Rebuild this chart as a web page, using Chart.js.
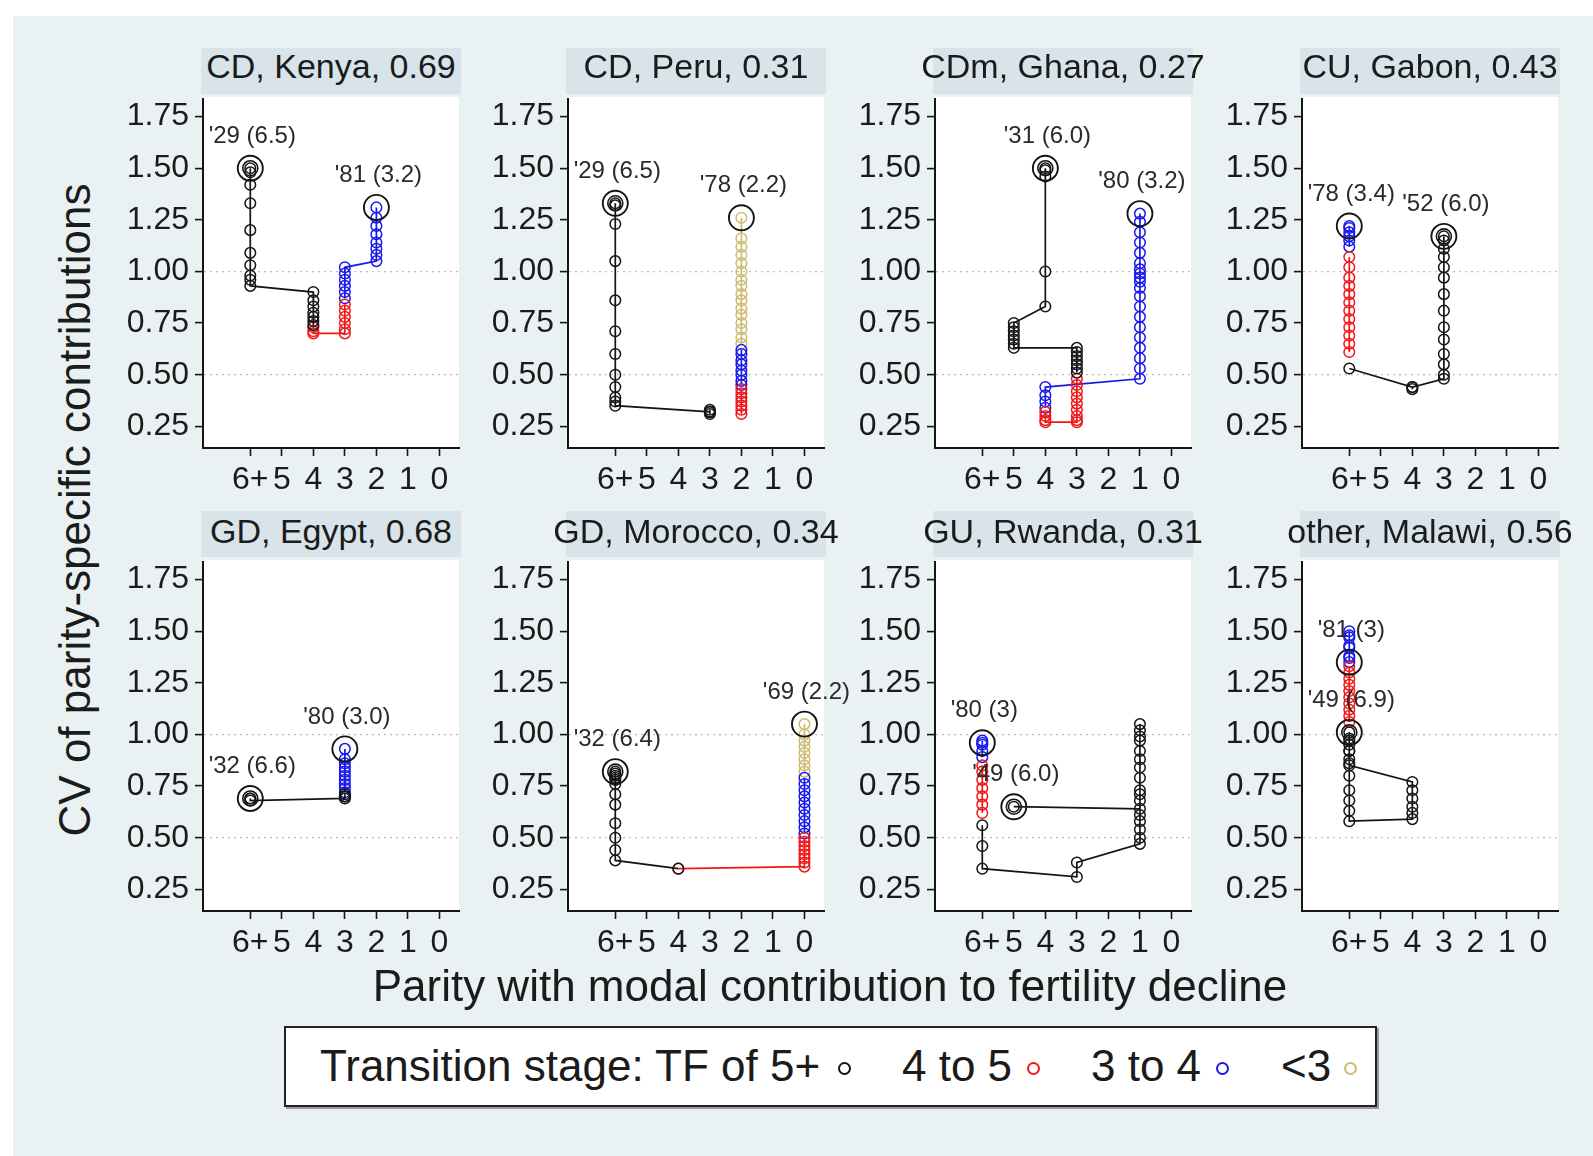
<!DOCTYPE html>
<html>
<head>
<meta charset="utf-8">
<script src="https://cdn.jsdelivr.net/npm/chart.js@4.4.1/dist/chart.umd.min.js"></script>
<style>
  body { margin: 0; width: 1593px; height: 1156px; overflow: hidden; background: #fff; position: relative;
         font-family: "Liberation Sans", Arial, sans-serif; color: #1b1b1b; }
  #region { position: absolute; left: 13px; top: 16px; width: 1580px; height: 1140px; background: #eaf1f3; }
  .strip { position: absolute; height: 46px; background: #d9e4ea; }
  .ptitle { position: absolute; width: 400px; text-align: center; font-size: 34px; line-height: 34px; white-space: nowrap; }
  canvas { position: absolute; }
  #xtitle { position: absolute; left: 330px; top: 964px; width: 1000px; text-align: center; font-size: 44px; line-height: 44px; }
  #ytitle { position: absolute; left: -275px; top: 488px; width: 700px; height: 44px; text-align: center;
            font-size: 44px; line-height: 44px; transform: rotate(-90deg); white-space: nowrap; }
  #legend { position: absolute; left: 284px; top: 1026px; width: 1089px; height: 77px; background: #fff;
            border: 2px solid #222; box-shadow: 2px 2px 0 #9a9a9a; }
  #legend span { position: absolute; top: 16px; font-size: 44px; line-height: 44px; white-space: nowrap; }
  #legend i { position: absolute; top: 34px; width: 9px; height: 9px; border: 2px solid; border-radius: 50%; }
</style>
</head>
<body>
<div id="region"></div>
<div id="panels"></div>
<div id="xtitle">Parity with modal contribution to fertility decline</div>
<div id="ytitle">CV of parity-specific contributions</div>
<div id="legend"></div>
<script>
// --- data ---
const panelTitles = ['CD, Kenya, 0.69', 'CD, Peru, 0.31', 'CDm, Ghana, 0.27', 'CU, Gabon, 0.43',
                     'GD, Egypt, 0.68', 'GD, Morocco, 0.34', 'GU, Rwanda, 0.31', 'other, Malawi, 0.56'];
const startLabels = ["'29 (6.5)", "'29 (6.5)", "'31 (6.0)", "'52 (6.0)", "'32 (6.6)", "'32 (6.4)", "'49 (6.0)", "'49 (6.9)"];
const endLabels   = ["'81 (3.2)", "'78 (2.2)", "'80 (3.2)", "'78 (3.4)", "'80 (3.0)", "'69 (2.2)", "'80 (3)", "'81 (3)"];

const stageNames = ['Transition stage: TF of 5+', '4 to 5', '3 to 4', '<3'];
const yTickValues = [0.25, 0.5, 0.75, 1, 1.25, 1.5, 1.75];
const xTickValues = [6, 5, 4, 3, 2, 1, 0];
const xTickLabels = ['6+', '5', '4', '3', '2', '1', '0'];

// parity with modal contribution, CV, stage (0 = TF 5+, 1 = 4-5, 2 = 3-4, 3 = <3), year by year
const kenyaParity = [6,6,6,6,6,6,6,6,6,6, 4,4,4,4,4,4,4, 4,4,4, 3,3,3,3,3,3, 3,3,3,3,3,3, 2,2,2,2,2,2,2,2];
const kenyaCV     = [1.50,1.48,1.42,1.33,1.20,1.09,1.03,0.98,0.96,0.93, 0.90,0.86,0.83,0.80,0.78,0.76,0.74,
                     0.73,0.71,0.70, 0.70,0.72,0.75,0.78,0.81,0.84, 0.87,0.90,0.93,0.96,0.99,1.02,
                     1.05,1.08,1.11,1.14,1.18,1.22,1.26,1.31];
const kenyaStage  = [0,0,0,0,0,0,0,0,0,0, 0,0,0,0,0,0,0, 1,1,1, 1,1,1,1,1,1, 2,2,2,2,2,2, 2,2,2,2,2,2,2,2];

const peruParity = [6,6,6,6,6,6,6,6,6,6,6,6, 3,3,3,3,3, 2,2,2,2,2,2,2, 2,2,2,2,2,2,2,2,
                    2,2,2,2,2,2,2,2,2,2,2,2,2,2,2,2];
const peruCV     = [1.33,1.32,1.23,1.05,0.86,0.71,0.60,0.50,0.44,0.39,0.37,0.35, 0.32,0.32,0.31,0.33,0.32,
                    0.31,0.33,0.35,0.37,0.39,0.41,0.43, 0.45,0.47,0.50,0.52,0.55,0.57,0.60,0.62,
                    0.65,0.68,0.72,0.75,0.79,0.82,0.86,0.89,0.93,0.96,1.00,1.04,1.08,1.12,1.16,1.26];
const peruStage  = [0,0,0,0,0,0,0,0,0,0,0,0, 0,0,0,0,0, 1,1,1,1,1,1,1, 2,2,2,2,2,2,2,2,
                    3,3,3,3,3,3,3,3,3,3,3,3,3,3,3,3];

const ghanaParity = [4,4,4,4,4, 5,5,5,5,5,5,5, 3,3,3,3,3,3,3, 3,3,3,3,3,3,3,3,3, 4,4,4,4, 4,4,4,4,
                     1,1,1,1,1,1,1,1,1,1,1,1,1,1,1,1,1,1,1,1];
const ghanaCV     = [1.50,1.49,1.46,1.00,0.83, 0.75,0.73,0.71,0.69,0.67,0.65,0.63, 0.63,0.61,0.59,0.57,0.55,0.53,0.51,
                     0.48,0.45,0.42,0.39,0.36,0.33,0.30,0.28,0.27, 0.27,0.28,0.30,0.32, 0.34,0.37,0.40,0.44,
                     0.48,0.53,0.58,0.63,0.68,0.73,0.78,0.83,0.88,0.92,0.95,0.97,0.99,1.01,1.04,1.09,1.14,1.19,1.24,1.28];
const ghanaStage  = [0,0,0,0,0, 0,0,0,0,0,0,0, 0,0,0,0,0,0,0, 1,1,1,1,1,1,1,1,1, 1,1,1,1, 2,2,2,2,
                     2,2,2,2,2,2,2,2,2,2,2,2,2,2,2,2,2,2,2,2];

const gabonParity = [3,3,3,3,3,3,3,3,3,3,3,3,3,3, 4,4,4, 6, 6,6,6,6,6,6,6,6,6,6,6,6, 6,6,6,6,6,6];
const gabonCV     = [1.17,1.15,1.11,1.07,1.02,0.97,0.89,0.81,0.73,0.67,0.60,0.55,0.50,0.48, 0.44,0.43,0.44, 0.53,
                     0.61,0.65,0.69,0.73,0.77,0.81,0.85,0.89,0.93,0.97,1.02,1.07, 1.12,1.15,1.17,1.19,1.21,1.22];
const gabonStage  = [0,0,0,0,0,0,0,0,0,0,0,0,0,0, 0,0,0, 0, 1,1,1,1,1,1,1,1,1,1,1,1, 2,2,2,2,2,2];

const egyptParity = [6,6,6, 3,3,3,3, 3,3,3,3,3,3,3,3,3,3];
const egyptCV     = [0.69,0.69,0.68, 0.69,0.70,0.70,0.71, 0.72,0.74,0.76,0.78,0.80,0.82,0.84,0.86,0.88,0.93];
const egyptStage  = [0,0,0, 0,0,0,0, 2,2,2,2,2,2,2,2,2,2];

const moroccoParity = [6,6,6,6,6,6,6,6,6,6,6,6, 4, 4, 0,0,0,0,0,0,0,0, 0,0,0,0,0,0,0,0,0,0, 0,0,0,0,0,0,0,0];
const moroccoCV     = [0.82,0.81,0.80,0.79,0.78,0.76,0.71,0.66,0.57,0.50,0.44,0.39, 0.35, 0.35,
                       0.36,0.38,0.40,0.42,0.44,0.46,0.48,0.50, 0.52,0.55,0.58,0.61,0.64,0.67,0.70,0.73,0.76,0.79,
                       0.82,0.85,0.88,0.91,0.94,0.97,1.00,1.05];
const moroccoStage  = [0,0,0,0,0,0,0,0,0,0,0,0, 0, 1, 1,1,1,1,1,1,1,1, 2,2,2,2,2,2,2,2,2,2, 3,3,3,3,3,3,3,3];

const rwandaParity = [5, 1,1,1,1,1,1,1,1,1,1,1,1,1,1,1,1,1, 3,3, 6,6,6, 6,6,6,6,6,6,6, 6,6,6,6,6];
const rwandaCV     = [0.65, 0.64,0.71,0.79,0.88,0.97,1.02,1.05,0.99,0.92,0.84,0.73,0.68,0.61,0.58,0.54,0.50,0.47,
                      0.38,0.31, 0.35,0.46,0.56, 0.62,0.66,0.70,0.74,0.78,0.82,0.85, 0.89,0.92,0.95,0.97,0.96];
const rwandaStage  = [0, 0,0,0,0,0,0,0,0,0,0,0,0,0,0,0,0,0, 0,0, 0,0,0, 1,1,1,1,1,1,1, 2,2,2,2,2];

const malawiParity = [6,6,6,6,6,6, 4,4,4,4,4,4, 6,6,6,6,6,6,6,6, 6,6,6,6,6,6,6,6,6,6, 6,6,6,6,6,6,6,6];
const malawiCV     = [1.01,0.98,0.95,0.92,0.88,0.85, 0.77,0.73,0.69,0.65,0.62,0.59, 0.58,0.63,0.68,0.73,0.80,0.86,0.92,0.97,
                      1.06,1.09,1.12,1.15,1.18,1.21,1.24,1.27,1.30,1.33, 1.37,1.42,1.47,1.50,1.48,1.43,1.38,1.35];
const malawiStage  = [0,0,0,0,0,0, 0,0,0,0,0,0, 0,0,0,0,0,0,0,0, 1,1,1,1,1,1,1,1,1,1, 2,2,2,2,2,2,2,2];

// --- styling / layout ---
const stageColors = ['#151515', '#f01818', '#1818ec', '#cfbb72'];
const colLeft = [203, 568, 935, 1302];
const rowTop = [99, 562];
const plotW = 256, plotH = 349, yAxisW = 100, xAxisH = 60, padRight = 40, padTop = 20;
const titleBaseline = [78, 543];
const stripTop = [48, 511];

Chart.defaults.font.family = '"Liberation Sans", Arial, sans-serif';
Chart.defaults.color = '#1b1b1b';

const series = [
  [kenyaParity, kenyaCV, kenyaStage], [peruParity, peruCV, peruStage],
  [ghanaParity, ghanaCV, ghanaStage], [gabonParity, gabonCV, gabonStage],
  [egyptParity, egyptCV, egyptStage], [moroccoParity, moroccoCV, moroccoStage],
  [rwandaParity, rwandaCV, rwandaStage], [malawiParity, malawiCV, malawiStage]
];

// white plot region
const plotBg = {
  id: 'plotBg',
  beforeDraw(chart) {
    const { ctx, chartArea: a } = chart;
    ctx.save();
    ctx.fillStyle = '#fff';
    ctx.fillRect(a.left, a.top - 2, a.right - a.left, a.bottom - a.top + 2);
    ctx.restore();
  }
};

// year (TF) labels above the first and last observation
const yearLabels = {
  id: 'yearLabels',
  afterDatasetsDraw(chart, args, opts) {
    const meta = chart.getDatasetMeta(0);
    const ctx = chart.ctx;
    ctx.save();
    ctx.font = '24px "Liberation Sans", Arial, sans-serif';
    ctx.fillStyle = '#2a2a2a';
    ctx.textAlign = 'center';
    ctx.textBaseline = 'middle';
    [opts.start, opts.end].forEach((t, i) => {
      const el = meta.data[i];
      ctx.fillText(t, el.x + 2, el.y - 32);
    });
    ctx.restore();
  }
};

const panelsDiv = document.getElementById('panels');

series.forEach(([parity, cv, stage], k) => {
  const col = k % 4, row = Math.floor(k / 4);
  const left = colLeft[col], top = rowTop[row];

  const strip = document.createElement('div');
  strip.className = 'strip';
  strip.style.left = (left - 2) + 'px';
  strip.style.top = stripTop[row] + 'px';
  strip.style.width = (plotW + 4) + 'px';
  panelsDiv.appendChild(strip);

  const t = document.createElement('div');
  t.className = 'ptitle';
  t.textContent = panelTitles[k];
  t.style.left = (left + plotW / 2 - 200) + 'px';
  t.style.top = (titleBaseline[row] - 29) + 'px';
  panelsDiv.appendChild(t);

  const cnv = document.createElement('canvas');
  cnv.width = yAxisW + plotW + padRight;
  cnv.height = padTop + plotH + xAxisH;
  cnv.style.left = (left - yAxisW) + 'px';
  cnv.style.top = (top - padTop) + 'px';
  panelsDiv.appendChild(cnv);

  const n = parity.length;
  const first = { x: parity[0], y: cv[0] }, last = { x: parity[n - 1], y: cv[n - 1] };
  const datasets = [
    { data: [first, last], pointRadius: 12.5, pointBorderWidth: 1.9, pointBorderColor: '#151515',
      pointBackgroundColor: 'transparent', showLine: false, clip: false },
    { data: [first], pointRadius: 7.5, pointBorderWidth: 1.6, pointBorderColor: '#151515',
      pointBackgroundColor: 'transparent', showLine: false, clip: false }
  ];
  for (let s = 0; s < stageColors.length; s++) {
    const pts = [];
    for (let i = 0; i < n; i++) if (stage[i] === s) pts.push({ x: parity[i], y: cv[i] });
    if (!pts.length) continue;
    datasets.push({
      data: pts, showLine: true, borderColor: stageColors[s], borderWidth: 1.7,
      pointRadius: 5.3, pointBorderWidth: 1.5, pointBorderColor: stageColors[s],
      pointBackgroundColor: 'transparent', clip: false
    });
  }

  new Chart(cnv, {
    type: 'scatter',
    data: { datasets },
    plugins: [plotBg, yearLabels],
    options: {
      responsive: false,
      animation: false,
      events: [],
      layout: { padding: { left: 0, top: padTop, bottom: 0, right: padRight } },
      plugins: {
        legend: { display: false },
        tooltip: { enabled: false },
        yearLabels: { start: startLabels[k], end: endLabels[k] }
      },
      scales: {
        x: {
          type: 'linear', reverse: true, min: -0.62, max: 7.5,
          afterBuildTicks: s => { s.ticks = xTickValues.map(v => ({ value: v })); },
          afterFit: s => { s.height = xAxisH; s.paddingLeft = 0; s.paddingRight = 0; },
          ticks: { autoSkip: false, maxRotation: 0, minRotation: 0, padding: 5,
                   font: { size: 32 }, color: '#1b1b1b',
                   callback: v => xTickLabels[xTickValues.indexOf(v)] },
          grid: { drawOnChartArea: false, drawTicks: true, tickLength: 8, tickColor: '#151515', tickWidth: 1.6 },
          border: { display: true, color: '#151515', width: 2 }
        },
        y: {
          type: 'linear', min: 0.145, max: 1.835,
          afterBuildTicks: s => { s.ticks = yTickValues.map(v => ({ value: v })); },
          afterFit: s => { s.width = yAxisW; s.paddingTop = 0; s.paddingBottom = 0; },
          ticks: { padding: 6, font: { size: 32 }, color: '#1b1b1b', callback: v => v.toFixed(2) },
          grid: {
            drawOnChartArea: true, drawTicks: true, tickLength: 8, tickColor: '#151515', tickWidth: 1.6,
            color: c => (c.tick && (c.tick.value === 0.5 || c.tick.value === 1)) ? '#bdbdbd' : 'transparent',
            lineWidth: 1.2
          },
          border: { display: true, color: '#151515', width: 2, dash: [2, 4] }
        }
      }
    }
  });
});

// legend
const legend = document.getElementById('legend');
const legendTextX = [34, 616, 805, 995];
const legendDotX = [552, 741, 930, 1058];
stageNames.forEach((name, i) => {
  const sp = document.createElement('span');
  sp.textContent = name;
  sp.style.left = legendTextX[i] + 'px';
  legend.appendChild(sp);
  const dot = document.createElement('i');
  dot.style.left = legendDotX[i] + 'px';
  dot.style.borderColor = stageColors[i];
  legend.appendChild(dot);
});
</script>
</body>
</html>
